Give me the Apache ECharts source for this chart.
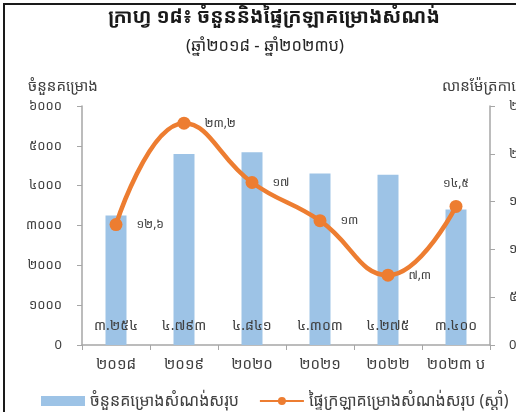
<!DOCTYPE html>
<html>
<head>
<meta charset="utf-8">
<script src="https://cdn.jsdelivr.net/npm/echarts@6/dist/echarts.min.js"></script>
<style>
  html, body { margin: 0; padding: 0; background: #fff; }
  #wrap { position: relative; width: 516px; height: 412px; overflow: hidden; }
  #frame { position: absolute; left: 3px; top: 3px; width: 600px; height: 500px;
           border-left: 2px solid #1a1a1a; border-top: 2px solid #1a1a1a; }
  #chart { position: absolute; left: 0; top: 0; width: 516px; height: 412px; }
</style>
</head>
<body>
<div id="wrap">
  <div id="frame"></div>
  <div id="chart"></div>
</div>
<script>
// data
var years = ['២០១៨', '២០១៩', '២០២០', '២០២១', '២០២២', '២០២៣ ប']
var projects = [3254, 4793, 4841, 4303, 4275, 3400]
var floorArea = [12.6, 23.2, 17, 13, 7.3, 14.5]

var titleText = 'ក្រាហ្វ ១៨៖ ចំនួននិងផ្ទៃក្រឡាគម្រោងសំណង់'
var subText = '(ឆ្នាំ២០១៨ - ឆ្នាំ២០២៣ប)'
var barName = 'ចំនួនគម្រោងសំណង់សរុប'
var lineName = 'ផ្ទៃក្រឡាគម្រោងសំណង់សរុប (ស្តាំ)'

var font = "'Noto Sans Khmer', 'Khmer OS', 'DejaVu Sans', sans-serif"

function khmerDigits(s) {
  return String(s).replace(/[0-9]/g, function (d) {
    return String.fromCharCode(0x17E0 + Number(d))
  })
}
function thousands(v) {
  var s = String(v)
  return khmerDigits(s.slice(0, s.length - 3) + '.' + s.slice(s.length - 3))
}
function axisLabel(v) {
  return v === 0 ? '0' : khmerDigits(v)
}

var chart = echarts.init(document.getElementById('chart'))
chart.setOption({
  textStyle: { fontFamily: font },
  title: [{
    text: titleText,
    left: 269, top: 2, textAlign: 'center',
    textStyle: { fontSize: 19.5, fontWeight: 'bold', color: '#1a1a1a', fontFamily: font }
  }, {
    text: subText,
    left: 260, top: 33, textAlign: 'center',
    textStyle: { fontSize: 16.5, fontWeight: 'normal', color: '#262626', fontFamily: font }
  }],
  legend: {
    bottom: -2, left: 36, width: 900,
    itemGap: 20,
    textStyle: { fontSize: 16, color: '#404040', fontFamily: font },
    data: [
      { name: barName, icon: 'rect', itemStyle: { color: '#9DC3E6' } },
      { name: lineName }
    ],
    itemWidth: 44, itemHeight: 10
  },
  grid: { left: 82, right: 26, top: 106, bottom: 67, outerBoundsMode: 'none', containLabel: false },
  xAxis: {
    type: 'category',
    data: years,
    axisLine: { lineStyle: { color: '#a6a6a6', width: 1.5 } },
    axisTick: { show: true, length: 5, lineStyle: { color: '#a6a6a6' } },
    axisLabel: { fontSize: 15, color: '#404040', margin: 12, interval: 0 }
  },
  yAxis: [{
    type: 'value', min: 0, max: 6000, interval: 1000,
    name: 'ចំនួនគម្រោង',
    nameGap: 12,
    nameTextStyle: { fontSize: 15, color: '#404040', align: 'center', padding: [0, 0, 0, -38] },
    axisLine: { show: true, lineStyle: { color: '#a6a6a6', width: 1.5 } },
    axisTick: { show: true, length: 5, lineStyle: { color: '#a6a6a6' } },
    splitLine: { show: false },
    axisLabel: { fontSize: 13, color: '#404040', margin: 20, formatter: axisLabel }
  }, {
    type: 'value', min: 0, max: 25, interval: 5,
    name: 'លានម៉ែត្រការ៉េ',
    nameGap: 12,
    nameTextStyle: { fontSize: 15, color: '#404040', align: 'left', padding: [0, 0, 0, -48] },
    axisLine: { show: true, lineStyle: { color: '#a6a6a6', width: 1.5 } },
    axisTick: { show: true, length: 5, lineStyle: { color: '#a6a6a6' } },
    splitLine: { show: false },
    axisLabel: { fontSize: 13, color: '#404040', margin: 19, formatter: axisLabel }
  }],
  series: [{
    name: barName,
    type: 'bar',
    data: projects,
    barWidth: 21,
    itemStyle: { color: '#9DC3E6' },
    label: {
      show: true, position: 'insideBottom', distance: 12,
      fontSize: 14, color: '#404040',
      formatter: function (p) { return thousands(p.value) }
    }
  }, {
    name: lineName,
    type: 'line',
    yAxisIndex: 1,
    data: floorArea.map(function (v, i) {
      return i === floorArea.length - 1
        ? { value: v, label: { position: 'top', distance: 10 } }
        : v
    }),
    smooth: 0.45,
    symbol: 'circle',
    symbolSize: 13,
    lineStyle: { color: '#ED7D31', width: 4.5 },
    itemStyle: { color: '#ED7D31' },
    label: {
      show: true, position: 'right', distance: 14,
      fontSize: 12, color: '#404040',
      formatter: function (p) { return khmerDigits(String(p.value).replace('.', ',')) }
    }
  }]
})
</script>
</body>
</html>
